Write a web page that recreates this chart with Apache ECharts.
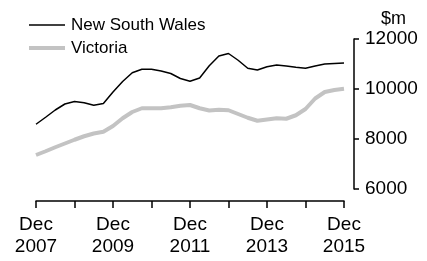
<!DOCTYPE html>
<html>
<head>
<meta charset="utf-8">
<script src="https://cdn.jsdelivr.net/npm/echarts@6/dist/echarts.min.js"></script>
<style>
html,body{margin:0;padding:0;background:#fff;}
#container{width:427px;height:261px;}
</style>
</head>
<body>
<div id="container"></div>
<script>
// quarterly, Dec 2007 .. Dec 2015
var quarters = ['Dec 2007','Mar 2008','Jun 2008','Sep 2008','Dec 2008','Mar 2009','Jun 2009','Sep 2009',
  'Dec 2009','Mar 2010','Jun 2010','Sep 2010','Dec 2010','Mar 2011','Jun 2011','Sep 2011',
  'Dec 2011','Mar 2012','Jun 2012','Sep 2012','Dec 2012','Mar 2013','Jun 2013','Sep 2013',
  'Dec 2013','Mar 2014','Jun 2014','Sep 2014','Dec 2014','Mar 2015','Jun 2015','Sep 2015','Dec 2015'];
var nsw = [8590,8870,9160,9400,9500,9450,9350,9420,
  9880,10300,10650,10790,10790,10720,10620,10420,
  10310,10440,10930,11320,11420,11150,10830,10760,
  10890,10960,10920,10870,10830,10920,11000,11020,11040];
var vic = [7360,7510,7670,7820,7970,8110,8220,8290,
  8520,8830,9080,9230,9230,9230,9270,9330,
  9360,9230,9140,9170,9150,9000,8850,8730,
  8780,8830,8810,8950,9200,9620,9880,9960,10010];
var yTicks = [6000, 8000, 10000, 12000];

var font = 'Liberation Sans, Arial, sans-serif';
var myChart = echarts.init(document.getElementById('container'));
var option = {
    animation: false,
    title: {
        text: '$m',
        left: 376,
        top: 5,
        textStyle: {fontFamily: font, fontSize: 18, fontWeight: 'normal', color: '#000'}
    },
    legend: {
        orient: 'vertical',
        left: 27,
        top: 15,
        padding: 0,
        itemWidth: 36,
        itemHeight: 20,
        itemGap: 3,
        data: [
            {name: 'New South Wales', lineStyle: {color: '#000', width: 1.5}},
            {name: 'Victoria', lineStyle: {color: '#c3c3c3', width: 4}}
        ],
        itemStyle: {opacity: 0},
        textStyle: {fontFamily: font, fontSize: 17, color: '#000', lineHeight: 20, padding: [0,0,0,1]}
    },
    grid: {left: 36, right: 83, top: 39, bottom: 72},
    xAxis: {
        type: 'category',
        data: quarters,
        boundaryGap: false,
        offset: 12,
        axisLine: {lineStyle: {color: '#000', width: 1.5}},
        axisTick: {interval: 3, length: 7, lineStyle: {color: '#000', width: 1.5}},
        axisLabel: {
            interval: 7,
            margin: 13,
            fontFamily: font, fontSize: 19, color: '#000', lineHeight: 22,
            formatter: function (v) { return v.replace(' ', '\n'); }
        },
        splitLine: {show: false}
    },
    yAxis: {
        type: 'value',
        position: 'right',
        min: yTicks[0],
        max: yTicks[yTicks.length - 1],
        interval: 2000,
        offset: 10,
        axisLine: {show: true, lineStyle: {color: '#000', width: 1.5}},
        axisTick: {show: true, inside: false, length: 5, lineStyle: {color: '#000', width: 1.5}},
        axisLabel: {margin: 11, fontFamily: font, fontSize: 19, color: '#000',
            formatter: function (v) { return String(v); }},
        splitLine: {show: false}
    },
    series: [
        {
            name: 'Victoria',
            type: 'line',
            data: vic,
            symbol: 'none',
            lineStyle: {color: '#c3c3c3', width: 4},
            itemStyle: {color: '#c3c3c3'},
            z: 2
        },
        {
            name: 'New South Wales',
            type: 'line',
            data: nsw,
            symbol: 'none',
            lineStyle: {color: '#000', width: 1.5},
            itemStyle: {color: '#000'},
            z: 3
        }
    ]
};
myChart.setOption(option);
</script>
</body>
</html>
